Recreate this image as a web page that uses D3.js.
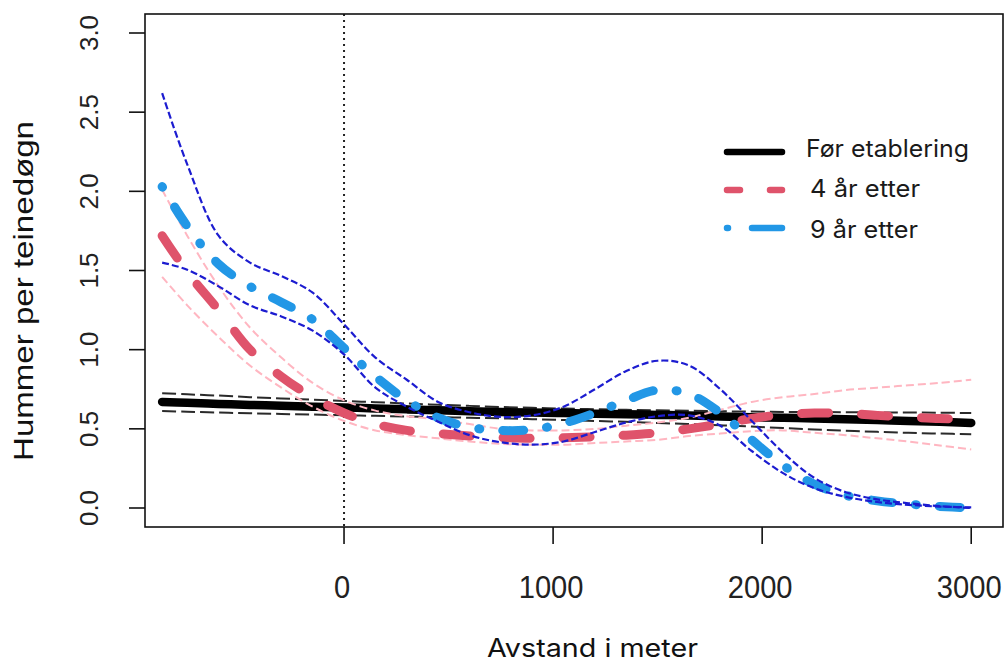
<!DOCTYPE html>
<html>
<head>
<meta charset="utf-8">
<script src="https://cdn.jsdelivr.net/npm/d3@7/dist/d3.min.js"></script>
<style>
  html, body { margin: 0; padding: 0; background: #fff; }
  svg { display: block; }
</style>
</head>
<body>
<svg id="chart" width="1008" height="664"></svg>
<script>
// ---------- data ----------
const distances = [-870, -750, -600, -450, -300, -150, 0, 150, 300, 450, 600, 750, 900, 1050,
  1200, 1350, 1500, 1650, 1800, 1950, 2100, 2250, 2400, 2550, 2700, 2850, 3000];

const forMean  = [0.670, 0.664, 0.657, 0.651, 0.646, 0.640, 0.635, 0.629, 0.623, 0.617, 0.611, 0.606, 0.603, 0.600,
  0.596, 0.592, 0.588, 0.584, 0.578, 0.573, 0.570, 0.566, 0.561, 0.556, 0.550, 0.544, 0.537];
const forUpper = [0.725, 0.718, 0.710, 0.700, 0.692, 0.684, 0.676, 0.668, 0.660, 0.652, 0.645, 0.638, 0.633, 0.628,
  0.624, 0.620, 0.617, 0.614, 0.611, 0.609, 0.607, 0.606, 0.605, 0.604, 0.603, 0.602, 0.600];
const forLower = [0.612, 0.608, 0.603, 0.598, 0.594, 0.590, 0.586, 0.582, 0.578, 0.574, 0.570, 0.566, 0.561, 0.556,
  0.550, 0.544, 0.537, 0.530, 0.522, 0.514, 0.505, 0.496, 0.488, 0.481, 0.475, 0.470, 0.466];

const ar4Mean  = [1.72, 1.49, 1.25, 1.00, 0.83, 0.70, 0.60, 0.53, 0.49, 0.47, 0.455, 0.445, 0.44, 0.443,
  0.45, 0.46, 0.475, 0.50, 0.53, 0.565, 0.59, 0.60, 0.598, 0.585, 0.575, 0.565, 0.56];
const ar4Upper = [2.01, 1.72, 1.40, 1.14, 0.95, 0.79, 0.68, 0.615, 0.58, 0.56, 0.53, 0.50, 0.49, 0.49,
  0.50, 0.52, 0.54, 0.57, 0.62, 0.67, 0.70, 0.72, 0.745, 0.76, 0.775, 0.79, 0.81];
const ar4Lower = [1.46, 1.28, 1.08, 0.90, 0.76, 0.64, 0.55, 0.49, 0.46, 0.44, 0.42, 0.405, 0.40, 0.40,
  0.41, 0.42, 0.43, 0.455, 0.47, 0.485, 0.49, 0.475, 0.46, 0.44, 0.42, 0.395, 0.37];

const ar9Mean  = [2.03, 1.78, 1.54, 1.40, 1.30, 1.19, 1.01, 0.83, 0.68, 0.57, 0.51, 0.49, 0.495, 0.535,
  0.60, 0.68, 0.745, 0.72, 0.60, 0.43, 0.27, 0.15, 0.08, 0.045, 0.025, 0.01, 0.0];
const ar9Upper = [2.62, 2.17, 1.72, 1.55, 1.465, 1.36, 1.16, 0.95, 0.81, 0.67, 0.605, 0.575, 0.585, 0.64,
  0.75, 0.865, 0.93, 0.90, 0.75, 0.55, 0.35, 0.19, 0.10, 0.055, 0.03, 0.012, 0.0];
const ar9Lower = [1.55, 1.505, 1.40, 1.28, 1.21, 1.12, 0.97, 0.76, 0.64, 0.545, 0.46, 0.415, 0.40, 0.42,
  0.48, 0.54, 0.58, 0.585, 0.52, 0.36, 0.22, 0.125, 0.07, 0.038, 0.02, 0.009, 0.004];

const xTicks = [0, 1000, 2000, 3000];
const xTickLabels = ["0", "1000", "2000", "3000"];
const yTicks = [0, 0.5, 1.0, 1.5, 2.0, 2.5, 3.0];
const yTickLabels = ["0.0", "0.5", "1.0", "1.5", "2.0", "2.5", "3.0"];
const legendLabels = ["Før etablering", "4 år etter", "9 år etter"];
const xTitle = "Avstand i meter";
const yTitle = "Hummer per teinedøgn";

// ---------- layout ----------
const svg = d3.select("#chart");
const box = { left: 145, right: 1003, top: 14, bottom: 527 };
const x = d3.scaleLinear().domain([-952, 3152]).range([box.left, box.right]);
const y = d3.scaleLinear().domain([-0.12, 3.12]).range([box.bottom, box.top]);

const line = vals => d3.line()
  .x((d, i) => x(distances[i]))
  .y(d => y(d))
  .curve(d3.curveCatmullRom.alpha(0.5))(vals);

const g = svg.append("g");

function drawLine(vals, color, width, dash, cap) {
  g.append("path")
    .attr("d", line(vals))
    .attr("fill", "none")
    .attr("stroke", color)
    .attr("stroke-width", width)
    .attr("stroke-dasharray", dash || null)
    .attr("stroke-linecap", cap || "round")
    .attr("stroke-linejoin", "round");
}

// vertical dotted line at 0
g.append("line")
  .attr("x1", x(0)).attr("x2", x(0))
  .attr("y1", box.top).attr("y2", box.bottom)
  .attr("stroke", "#222").attr("stroke-width", 2)
  .attr("stroke-dasharray", "2,4");

// series
drawLine(forUpper, "#2a2a2a", 2, "14,5", "butt");
drawLine(forLower, "#2a2a2a", 2, "14,5", "butt");
drawLine(forMean, "#000", 8.5, null, "round");
drawLine(ar4Upper, "#ffb6c1", 2, "8,4", "butt");
drawLine(ar4Lower, "#ffb6c1", 2, "8,4", "butt");
drawLine(ar4Mean, "#DF536B", 9, "27,33", "round");
drawLine(ar9Mean, "#2297E6", 9, "1,23,21,23", "round");
drawLine(ar9Upper, "#1c1cd0", 2.2, "7,3", "butt");
drawLine(ar9Lower, "#1c1cd0", 2.2, "7,3", "butt");

// box
svg.append("rect")
  .attr("x", box.left).attr("y", box.top)
  .attr("width", box.right - box.left).attr("height", box.bottom - box.top)
  .attr("fill", "none").attr("stroke", "#111").attr("stroke-width", 1.6);

// x axis ticks
const axisFont = "'Liberation Sans', Arial, Helvetica, sans-serif";
xTicks.forEach((t, i) => {
  svg.append("line")
    .attr("x1", x(t)).attr("x2", x(t))
    .attr("y1", box.bottom).attr("y2", box.bottom + 17)
    .attr("stroke", "#111").attr("stroke-width", 1.6);
  svg.append("text")
    .attr("transform", `translate(${x(t) - 2},598) scale(0.91,1)`)
    .attr("text-anchor", "middle")
    .attr("font-family", axisFont)
    .attr("font-size", 32)
    .attr("fill", "#222")
    .text(xTickLabels[i]);
});

// y axis ticks
yTicks.forEach((t, i) => {
  svg.append("line")
    .attr("x1", box.left - 16).attr("x2", box.left)
    .attr("y1", y(t)).attr("y2", y(t))
    .attr("stroke", "#111").attr("stroke-width", 1.6);
  svg.append("text")
    .attr("transform", `translate(98,${y(t)}) rotate(-90)`)
    .attr("text-anchor", "middle")
    .attr("font-family", axisFont)
    .attr("font-size", 26)
    .attr("fill", "#222")
    .text(yTickLabels[i]);
});

// axis titles
svg.append("text")
  .attr("x", 487).attr("y", 657)
  .attr("font-family", "Inter, 'Open Sans', sans-serif")
  .attr("font-size", 25)
  .attr("fill", "#111")
  .attr("textLength", 211).attr("lengthAdjust", "spacingAndGlyphs")
  .text(xTitle);

svg.append("text")
  .attr("transform", `translate(33,291) rotate(-90)`)
  .attr("text-anchor", "middle")
  .attr("font-family", axisFont)
  .attr("font-size", 28)
  .attr("fill", "#111")
  .attr("textLength", 340).attr("lengthAdjust", "spacingAndGlyphs")
  .text(yTitle);

// legend
const leg = svg.append("g");
const legY = [152, 190, 228];
const legTextY = [157, 197, 238];
const legTextX = [806, 810, 810];
const legTextW = [163, 110, 108];
const legStyles = [
  { color: "#000", dash: null },
  { color: "#DF536B", dash: "13,30" },
  { color: "#2297E6", dash: "1,24,40" }
];
legendLabels.forEach((lab, i) => {
  leg.append("line")
    .attr("x1", 727).attr("x2", 782)
    .attr("y1", legY[i]).attr("y2", legY[i])
    .attr("stroke", legStyles[i].color)
    .attr("stroke-width", 6.5)
    .attr("stroke-linecap", "round")
    .attr("stroke-dasharray", legStyles[i].dash);
  leg.append("text")
    .attr("x", legTextX[i]).attr("y", legTextY[i])
    .attr("font-family", "Inter, 'Open Sans', sans-serif")
    .attr("font-size", 24)
    .attr("fill", "#1a1a1a")
    .attr("textLength", legTextW[i]).attr("lengthAdjust", "spacingAndGlyphs")
    .text(lab);
});
</script>
</body>
</html>
